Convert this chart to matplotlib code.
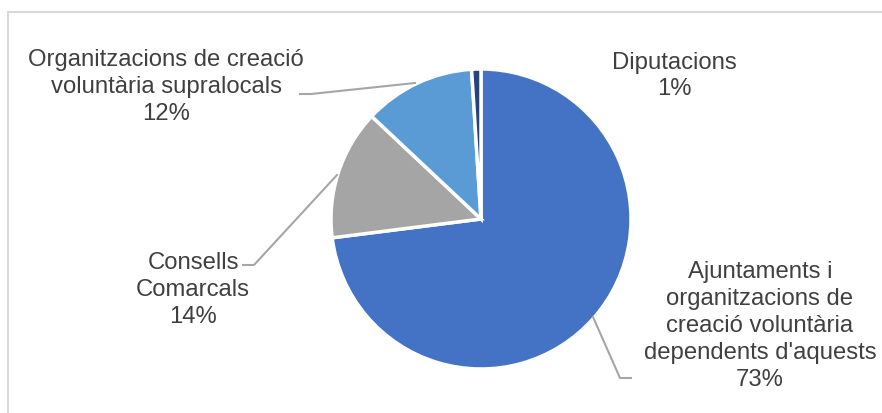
import matplotlib.pyplot as plt
from matplotlib.patches import Rectangle

plt.rcParams['font.family'] = ['Liberation Sans', 'DejaVu Sans']

# dades
labels = ["Ajuntaments i\norganitzacions de\ncreació voluntària\ndependents d'aquests",
          "Consells\nComarcals",
          "Organitzacions de creació\nvoluntària supralocals",
          "Diputacions"]
values = [73, 14, 12, 1]
colors = ['#4472C4', '#A5A5A5', '#5B9BD5', '#264478']

W, H = 882, 414
fig = plt.figure(figsize=(W / 100, H / 100), dpi=100)
ax = fig.add_axes([0, 0, 1, 1])
ax.set_xlim(0, W)
ax.set_ylim(0, H)
ax.set_aspect('equal')
ax.axis('off')

# marc del gràfic
fig.patches.append(Rectangle((8 / W, -0.1), 1.2, 1 - 13 / H + 0.1, transform=fig.transFigure,
                             fill=False, edgecolor='#D9D9D9', linewidth=1.5))

cx, cy, r = 481, H - 220, 150
ax.pie(values, colors=colors, startangle=90, counterclock=False,
       center=(cx, cy), radius=r, frame=True,
       wedgeprops=dict(edgecolor='white', linewidth=2.5))
ax.set_xlim(0, W)
ax.set_ylim(0, H)
ax.axis('off')

# etiquetes (posició en píxels des de dalt)
pos = [(760, 326), (193, 290), (166, 87), (674, 76)]
for lab, v, (x, y) in zip(labels, values, pos):
    ax.text(x, H - y, f"{lab}\n{v}%", ha='center', va='center', fontsize=17.2,
            color='#404040', linespacing=1.28)

# línies guia
lc = '#A6A6A6'
guides = [[(631, 379), (620, 379), (593, 318)],
          [(243, 266), (254, 266), (337, 176)],
          [(300, 95), (311, 95), (415, 84)]]
for g in guides:
    xs = [p[0] for p in g]
    ys = [H - p[1] for p in g]
    ax.plot(xs, ys, color=lc, linewidth=1.5)

fig.savefig('out.png', dpi=100)
